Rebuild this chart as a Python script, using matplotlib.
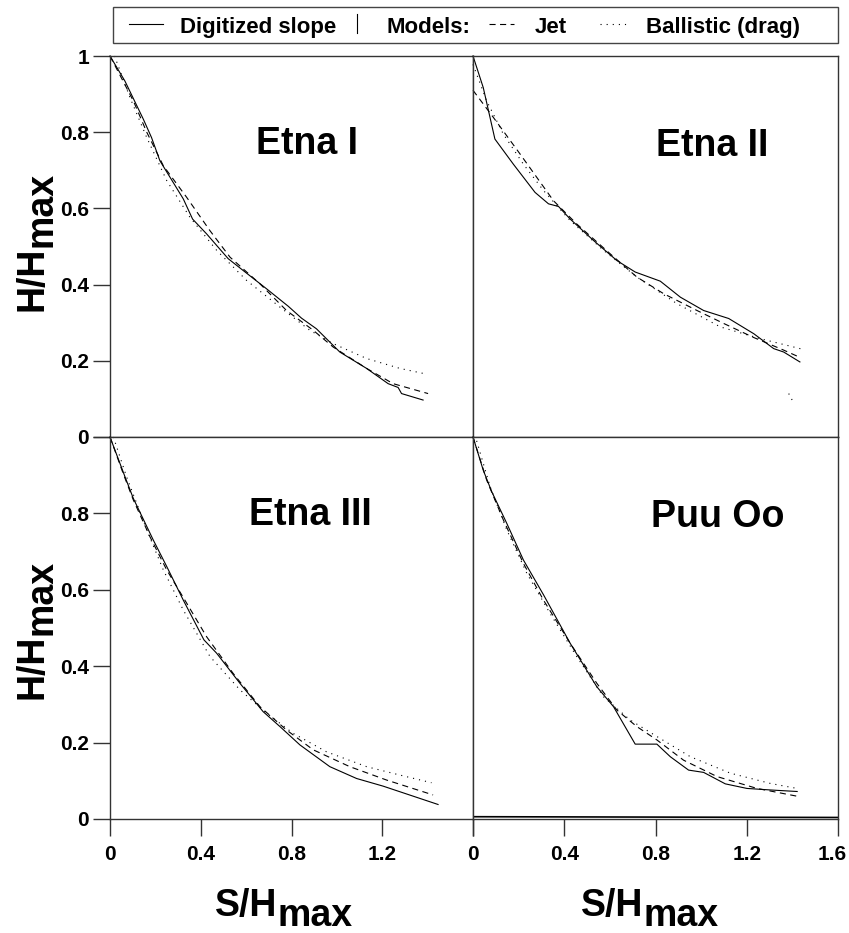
import matplotlib
matplotlib.use('Agg')
import matplotlib.pyplot as plt
import matplotlib.transforms as mtransforms
from matplotlib.lines import Line2D
from matplotlib.patches import Rectangle

plt.rcParams['font.family'] = ['Liberation Sans', 'DejaVu Sans']
plt.rcParams['font.weight'] = 'bold'

# --- data (S/Hmax, H/Hmax) ---
panel_names = ['Etna I', 'Etna II', 'Etna III', 'Puu Oo']

# Etna I
etna1_slope_s = [0, 0.066, 0.147, 0.183, 0.22, 0.323, 0.364, 0.426, 0.521, 0.587, 0.69, 0.786, 0.844, 0.91, 1.013, 1.131, 1.226, 1.27, 1.285, 1.38]
etna1_slope_h = [1.0, 0.934, 0.834, 0.786, 0.725, 0.625, 0.572, 0.533, 0.468, 0.437, 0.389, 0.343, 0.312, 0.284, 0.223, 0.18, 0.14, 0.13, 0.114, 0.097]
etna1_jet_s = [0, 0.103, 0.162, 0.235, 0.338, 0.44, 0.529, 0.661, 0.778, 0.896, 0.984, 1.131, 1.248, 1.402]
etna1_jet_h = [1.0, 0.882, 0.80, 0.712, 0.629, 0.542, 0.472, 0.402, 0.332, 0.28, 0.236, 0.18, 0.14, 0.114]
etna1_ball_s = [0.02, 0.088, 0.162, 0.25, 0.352, 0.47, 0.602, 0.749, 0.881, 0.984, 1.131, 1.278, 1.38]
etna1_ball_h = [1.0, 0.891, 0.786, 0.673, 0.577, 0.49, 0.411, 0.341, 0.28, 0.245, 0.206, 0.18, 0.167]

# Etna II
etna2_slope_s = [0, 0.045, 0.096, 0.177, 0.272, 0.331, 0.375, 0.426, 0.528, 0.631, 0.711, 0.821, 0.909, 1.011, 1.121, 1.231, 1.318, 1.362, 1.433]
etna2_slope_h = [1.0, 0.917, 0.782, 0.716, 0.642, 0.612, 0.605, 0.572, 0.516, 0.463, 0.433, 0.409, 0.367, 0.332, 0.311, 0.271, 0.232, 0.223, 0.197]
etna2_jet_s = [0, 0.089, 0.206, 0.353, 0.455, 0.601, 0.718, 0.836, 0.982, 1.099, 1.231, 1.362, 1.433]
etna2_jet_h = [0.91, 0.839, 0.743, 0.62, 0.559, 0.481, 0.42, 0.376, 0.332, 0.298, 0.261, 0.228, 0.209]
etna2_ball_s = [0, 0.06, 0.133, 0.221, 0.309, 0.426, 0.572, 0.718, 0.894, 1.084, 1.26, 1.447]
etna2_ball_h = [0.978, 0.882, 0.795, 0.716, 0.647, 0.568, 0.49, 0.42, 0.35, 0.289, 0.258, 0.23]
etna2_stray_s = [1.384, 1.399]
etna2_stray_h = [0.114, 0.097]

# Etna III
etna3_slope_s = [0, 0.066, 0.103, 0.191, 0.25, 0.323, 0.414, 0.47, 0.573, 0.675, 0.749, 0.837, 0.969, 1.087, 1.204, 1.446]
etna3_slope_h = [1.0, 0.896, 0.839, 0.73, 0.661, 0.573, 0.469, 0.434, 0.355, 0.281, 0.242, 0.194, 0.137, 0.106, 0.086, 0.038]
etna3_jet_s = [0, 0.059, 0.103, 0.176, 0.25, 0.338, 0.426, 0.543, 0.661, 0.778, 0.896, 1.057, 1.219, 1.424]
etna3_jet_h = [1.0, 0.903, 0.835, 0.739, 0.652, 0.565, 0.477, 0.381, 0.294, 0.233, 0.181, 0.137, 0.102, 0.063]
etna3_ball_s = [0.015, 0.073, 0.162, 0.235, 0.323, 0.441, 0.573, 0.69, 0.808, 0.954, 1.131, 1.278, 1.417]
etna3_ball_h = [1.0, 0.896, 0.757, 0.652, 0.547, 0.425, 0.338, 0.277, 0.224, 0.176, 0.137, 0.115, 0.095]

# Puu Oo
puu_slope_s = [0, 0.045, 0.082, 0.148, 0.221, 0.309, 0.426, 0.543, 0.616, 0.711, 0.806, 0.865, 0.945, 1.011, 1.106, 1.201, 1.304, 1.421]
puu_slope_h = [1.0, 0.913, 0.857, 0.774, 0.678, 0.587, 0.46, 0.346, 0.294, 0.196, 0.196, 0.163, 0.128, 0.122, 0.092, 0.08, 0.076, 0.072]
puu_jet_s = [0, 0.06, 0.133, 0.221, 0.309, 0.426, 0.543, 0.631, 0.718, 0.806, 0.923, 1.07, 1.245, 1.435]
puu_jet_h = [1.0, 0.887, 0.783, 0.669, 0.573, 0.46, 0.355, 0.285, 0.242, 0.207, 0.154, 0.111, 0.08, 0.058]
puu_ball_s = [0.016, 0.075, 0.148, 0.236, 0.338, 0.455, 0.572, 0.689, 0.806, 0.953, 1.128, 1.304, 1.421]
puu_ball_h = [0.99, 0.87, 0.757, 0.643, 0.538, 0.425, 0.32, 0.259, 0.216, 0.163, 0.12, 0.093, 0.08]
puu_base_s = [0, 1.6]
puu_base_h = [0.006, 0.004]

x_ticks = [0, 0.4, 0.8, 1.2, 1.6]
x_ticklabels = ['0', '0.4', '0.8', '1.2', '1.6']
y_ticks = [0, 0.2, 0.4, 0.6, 0.8, 1.0]
y_ticklabels = ['0', '0.2', '0.4', '0.6', '0.8', '1']

W, H = 849, 933
fig = plt.figure(figsize=(W / 100, H / 100), dpi=100)

def fx(px):
    return px / W

def fy(py):
    return 1 - py / H

dash = (0, (5.5, 4))
dot = (0, (1, 4.5))
lw = 0.8

# panel boxes in pixels: left, top, right, bottom
boxes = [(110, 56, 473, 437), (473, 56, 838, 437),
         (110, 437, 473, 819), (473, 437, 838, 819)]
curves = [
    (etna1_slope_s, etna1_slope_h, etna1_jet_s, etna1_jet_h, etna1_ball_s, etna1_ball_h),
    (etna2_slope_s, etna2_slope_h, etna2_jet_s, etna2_jet_h, etna2_ball_s, etna2_ball_h),
    (etna3_slope_s, etna3_slope_h, etna3_jet_s, etna3_jet_h, etna3_ball_s, etna3_ball_h),
    (puu_slope_s, puu_slope_h, puu_jet_s, puu_jet_h, puu_ball_s, puu_ball_h),
]
title_pos = [(0.868, 0.77), (1.048, 0.764), (0.884, 0.795), (1.075, 0.79)]

axes = []
for i, (l, t, r, b) in enumerate(boxes):
    ax = fig.add_axes([fx(l), fy(b), (r - l) / W, (b - t) / H])
    ax.set_xlim(0, 1.6)
    ax.set_ylim(0, 1)
    ss, sh, js, jh, bs, bh = curves[i]
    ax.plot(ss, sh, color='black', lw=lw, ls='-', clip_on=False)
    ax.plot(js, jh, color='black', lw=lw, ls=dash, clip_on=False)
    ax.plot(bs, bh, color='black', lw=lw, ls=dot, clip_on=False)
    tx, ty = title_pos[i]
    ax.text(tx, ty, panel_names[i], fontsize=27, fontweight='bold',
            ha='center', va='center')
    for s in ax.spines.values():
        s.set_linewidth(1.0)
        s.set_color('#333333')
    ax.tick_params(direction='out', length=12, width=1.0, color='#333333',
                   labelsize=15, pad=3)
    # x ticks only on bottom row
    if i >= 2:
        ax.set_xticks(x_ticks)
        if i == 2:
            ax.set_xticklabels(x_ticklabels[:4] + [''])
        else:
            ax.set_xticklabels(x_ticklabels)
        ax.tick_params(axis='x', pad=7)
    else:
        ax.set_xticks([])
    # y ticks only on left column
    if i % 2 == 0:
        ax.set_yticks(y_ticks)
        if i == 0:
            ax.set_yticklabels(y_ticklabels)
        else:
            ax.set_yticklabels(y_ticklabels[:5] + [''])
    else:
        ax.set_yticks([])
    for lab in ax.get_xticklabels() + ax.get_yticklabels():
        lab.set_fontweight('bold')
    axes.append(ax)

# last x label sits a little left of its tick, as in the original
last = axes[3].get_xticklabels()[-1]
last.set_transform(last.get_transform() +
                   mtransforms.ScaledTranslation(-6 / 100, 0, fig.dpi_scale_trans))

axes[1].plot(etna2_stray_s, etna2_stray_h, color='black', lw=lw, ls=dot)
axes[3].plot(puu_base_s, puu_base_h, color='black', lw=1.2)

# axis labels (H/Hmax, S/Hmax) with large subscript
for yb in (247, 635):
    fig.text(fx(42), fy(yb), 'H/H', fontsize=27, fontweight='bold', rotation=90,
             rotation_mode='anchor', ha='right', va='baseline')
    fig.text(fx(52), fy(yb), 'max', fontsize=27, fontweight='bold', rotation=90,
             rotation_mode='anchor', ha='left', va='baseline')
for xb in (277, 643):
    fig.text(fx(xb), fy(916), 'S/H', fontsize=27, fontweight='bold',
             ha='right', va='baseline')
    fig.text(fx(xb), fy(926), 'max', fontsize=27, fontweight='bold',
             ha='left', va='baseline')

# legend box at the top
fig.patches.append(Rectangle((fx(113), fy(43)), (838 - 113) / W, (43 - 7) / H,
                             transform=fig.transFigure, fill=False,
                             edgecolor='#444444', lw=1.0))
ly = fy(24)
tb = fy(33)
fig.add_artist(Line2D([fx(129), fx(163)], [ly, ly], color='black', lw=lw,
                      transform=fig.transFigure))
fig.text(fx(180), tb, 'Digitized slope', fontsize=16, fontweight='bold',
         ha='left', va='baseline')
fig.add_artist(Line2D([fx(357), fx(357)], [fy(14), fy(33)], color='black', lw=0.8,
                      transform=fig.transFigure))
fig.text(fx(387), tb, 'Models:', fontsize=16, fontweight='bold',
         ha='left', va='baseline')
fig.add_artist(Line2D([fx(489), fx(514)], [ly, ly], color='black', lw=lw, ls=dash,
                      transform=fig.transFigure))
fig.text(fx(535), tb, 'Jet', fontsize=16, fontweight='bold',
         ha='left', va='baseline')
fig.add_artist(Line2D([fx(600), fx(628)], [ly, ly], color='black', lw=lw, ls=dot,
                      transform=fig.transFigure))
fig.text(fx(646), tb, 'Ballistic (drag)', fontsize=16, fontweight='bold',
         ha='left', va='baseline')

fig.savefig('out.png', dpi=100)
